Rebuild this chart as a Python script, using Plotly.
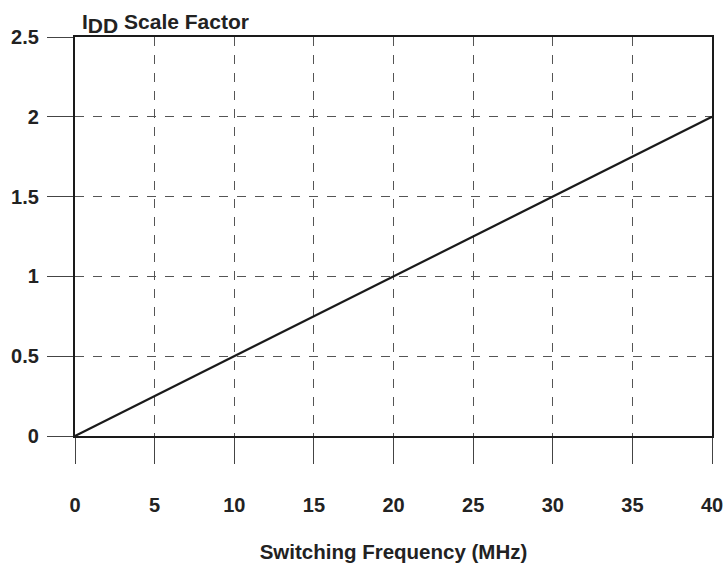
import plotly.graph_objects as go

freq_mhz = [0, 40]
scale_factor = [0, 2]
x_ticks = [0, 5, 10, 15, 20, 25, 30, 35, 40]
y_ticks = [0, 0.5, 1, 1.5, 2, 2.5]
y_tick_labels = ["0", "0.5", "1", "1.5", "2", "2.5"]

FS = 20
TFS = 21
fig = go.Figure()
fig.add_trace(go.Scatter(x=freq_mhz, y=scale_factor, mode="lines",
                         line=dict(color="#1a1a1a", width=2.2), showlegend=False))

font = dict(family="Liberation Sans, Arial, sans-serif", size=FS, color="#222222")

fig.update_layout(
    width=728, height=565,
    margin=dict(l=75, r=16, t=37, b=129),
    paper_bgcolor="white", plot_bgcolor="white",
    font=font,
    xaxis=dict(range=[0, 40], tickvals=x_ticks, ticktext=[f"<b>{v}</b>" for v in x_ticks],
               ticks="outside", ticklen=26, tickcolor="#444444", tickwidth=1,
               ticklabelstandoff=24, automargin=False,
               showgrid=True, gridcolor="#555555", gridwidth=1, griddash="dash",
               showline=True, mirror=True, linecolor="#1a1a1a", linewidth=2.2,
               zeroline=False,
               title=dict(text="<b>Switching Frequency (MHz)</b>", standoff=30,
                          font=dict(size=20.5))),
    yaxis=dict(range=[0, 2.5], tickvals=y_ticks, ticktext=[f"<b>{t}</b>" for t in y_tick_labels],
               ticks="outside", ticklen=26, tickcolor="#444444", tickwidth=1,
               ticklabelstandoff=4, automargin=False,
               showgrid=True, gridcolor="#555555", gridwidth=1, griddash="dash",
               showline=True, mirror=True, linecolor="#1a1a1a", linewidth=2.2,
               zeroline=False),
    annotations=[dict(text=f"<b>I<sub><span style='font-size:{TFS}px'>DD</span></sub> Scale Factor</b>",
                      xref="paper", yref="paper",
                      x=0.0078, y=1.0, xanchor="left", yanchor="bottom", showarrow=False,
                      yshift=-2, font=dict(size=TFS))],
)

fig.write_html("out.html")
